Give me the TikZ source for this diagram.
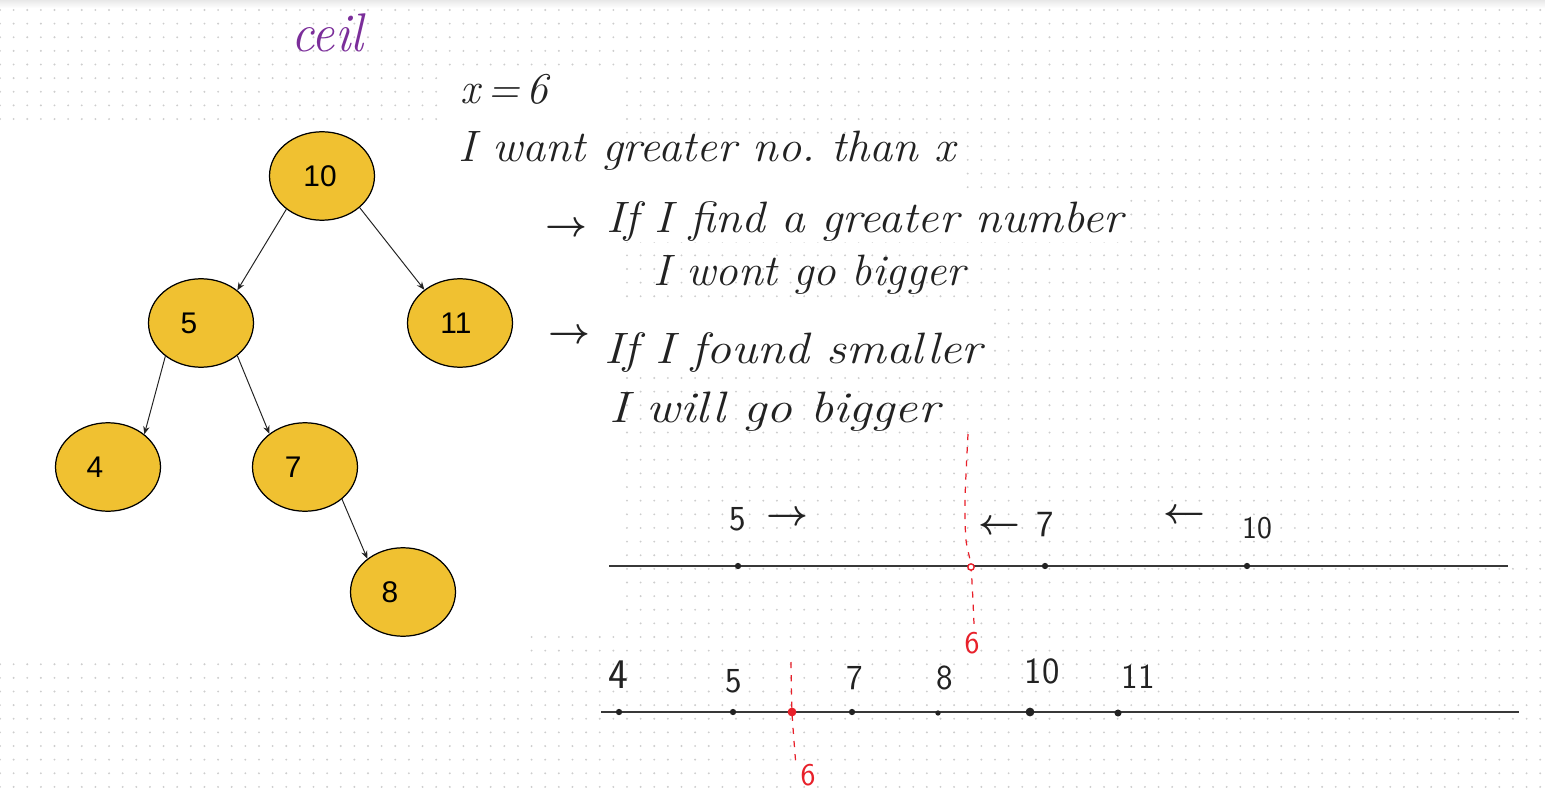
\documentclass[tikz,border=0pt]{standalone}
\usepackage{fontspec}
\usepackage{graphicx}
\newfontfamily\arialfont{Liberation Sans}
\usetikzlibrary{arrows.meta,shapes.geometric}
\definecolor{gold}{HTML}{F0C131}
\definecolor{ink}{HTML}{222222}
\definecolor{redink}{HTML}{E8202A}
\definecolor{purpink}{HTML}{7B2E9A}
\definecolor{gridcol}{HTML}{CDCDCD}
\newlength\pxu
\setlength\pxu{0.02cm}
\begin{document}
\begin{tikzpicture}[x=0.02cm,y=-0.02cm,
  treenode/.style={ellipse,draw=black,line width=0.7pt,fill=gold,minimum width=2.1cm,minimum height=1.77cm,inner sep=0pt},
  treenum/.style={font=\arialfont\fontsize{17}{20}\selectfont,text=black,inner sep=0pt},
  treearrow/.style={draw=ink,line width=0.55pt,-{Stealth[length=4.5pt,width=3.6pt]}},
  hand/.style={text=ink,font=\fontsize{25}{30}\selectfont\itshape,inner sep=0pt,anchor=base west},
  handarrow/.style={text=ink,font=\fontsize{21}{24}\selectfont\boldmath,inner sep=0pt},
  digit/.style={text=ink,font=\sffamily\fontsize{20}{22}\selectfont,inner sep=0pt},
  reddigit/.style={text=redink,font=\sffamily\fontsize{18}{20}\selectfont,inner sep=0pt},
  numline/.style={draw=ink!90,line width=1.1pt},
  reddash/.style={draw=redink,line width=0.7pt,dash pattern=on 3.5pt off 4pt},
  blackdot/.style={circle,fill=ink,inner sep=0pt,minimum size=#1},
  reddot/.style={circle,fill=redink,inner sep=0pt,minimum size=#1}
]
\useasboundingbox (0,0) rectangle (1545,797);
\fill[white] (0,0) rectangle (1545,797);
% dotted grid
\foreach \i in {0,...,113}{
  \fill[gridcol] foreach \j in {0,...,57}{(\i*13.63,10+\j*13.63) circle (0.6pt)};
}
\shade[top color=black!9,bottom color=white] (0,0) rectangle (1545,8);
% white backgrounds of pasted pieces
\fill[white] (0,122) rectangle (528,660);
\fill[white] (440,68) rectangle (622,200);
\fill[white] (440,138) rectangle (962,190);
\fill[white] (530,195) rectangle (1125,242);
\fill[white] (528,195) rectangle (625,632);
\fill[white] (530,300) rectangle (987,372);

% tree
\node[treenode,label={[treenum,xshift=-1.1pt]center:10}] (n10) at (322,176) {};
\node[treenode,label={[treenum,xshift=-6.8pt]center:5}] (n5) at (201,323) {};
\node[treenode,label={[treenum,xshift=-2.3pt]center:11}] (n11) at (460,323) {};
\node[treenode,label={[treenum,xshift=-7.4pt]center:4}] (n4) at (108,467) {};
\node[treenode,label={[treenum,xshift=-6.8pt]center:7}] (n7) at (305,467) {};
\node[treenode,label={[treenum,xshift=-7.4pt]center:8}] (n8) at (403,592) {};
\draw[treearrow] (n10.223) -- (n5.42);
\draw[treearrow] (n10.320) -- (n11.137);
\draw[treearrow] (n5.223) -- (n4.42);
\draw[treearrow] (n5.318) -- (n7.137);
\draw[treearrow] (n7.319) -- (n8.137);

% handwritten notes
\node[hand,text=purpink,font=\fontsize{31}{34}\selectfont\itshape] (ceil) at (291,52) {\resizebox{72\pxu}{\height}{ceil}};
\node[hand] (xeq) at (460,104) {\resizebox{88\pxu}{\height}{x\,=\,6}};
\node[hand] (want) at (458,162) {\resizebox{497\pxu}{\height}{I want greater no.\ than x}};
\node[handarrow] (ar1) at (566,229) {$\rightarrow$};
\node[hand] (find) at (606,233) {\resizebox{517\pxu}{\height}{If I find a greater number}};
\node[hand] (wont) at (653,286) {\resizebox{312\pxu}{\height}{I wont go bigger}};
\node[handarrow] (ar2) at (569,336) {$\rightarrow$};
\node[hand] (found) at (604,363) {\resizebox{378\pxu}{\height}{If I found smaller}};
\node[hand] (will) at (609,422) {\resizebox{330\pxu}{\height}{I will go bigger}};

% number line 1
\coordinate (l1s) at (609,566);
\coordinate (l1e) at (1508,566);
\draw[numline] (l1s) -- (l1e);
\draw[reddash] plot[smooth] coordinates {(968,434) (965,500) (966,540) (971,567) (974,624)};
\node[blackdot=3.6pt] (d1a) at (738,566) {};
\node[blackdot=3.6pt] (d1b) at (1045,566) {};
\node[blackdot=3.6pt] (d1c) at (1247,566) {};
\node[circle,draw=redink,fill=white,line width=0.8pt,inner sep=0pt,minimum size=3.6pt] (d1r) at (971,567) {};
\node[digit,font=\sffamily\fontsize{20}{22}\selectfont] (t1a) at (738,519) {5};
\node[handarrow] (a1a) at (787,518) {$\rightarrow$};
\node[handarrow] (a1b) at (999,527) {$\leftarrow$};
\node[digit,font=\sffamily\fontsize{21}{23}\selectfont] (t1b) at (1045,525) {7};
\node[handarrow] (a1c) at (1184,516) {$\leftarrow$};
\node[digit,font=\sffamily\fontsize{18}{20}\selectfont] (t1c) at (1257,528) {10};
\node[reddigit] (r6a) at (972,643) {6};

% number line 2
\coordinate (l2s) at (601,712);
\coordinate (l2e) at (1519,712);
\draw[numline] (l2s) -- (l2e);
\draw[reddash] plot[smooth] coordinates {(791,662) (792,712) (796,766)};
\node[blackdot=3.6pt] (d2a) at (619,712) {};
\node[blackdot=3.6pt] (d2b) at (733,712) {};
\node[blackdot=3.6pt] (d2c) at (852,712) {};
\node[blackdot=3pt] (d2d) at (938,713) {};
\node[blackdot=5pt] (d2e) at (1030,712) {};
\node[blackdot=4pt] (d2f) at (1118,713) {};
\node[reddot=5pt] (d2r) at (792,712) {};
\node[digit,font=\sffamily\fontsize{24}{26}\selectfont] (t2a) at (618,675) {4};
\node[digit] (t2b) at (734,681) {5};
\node[digit] (t2c) at (855,678) {7};
\node[digit] (t2d) at (945,678) {8};
\node[digit,font=\sffamily\fontsize{21}{24}\selectfont] (t2e) at (1042,671) {10};
\node[digit] (t2f) at (1138,677) {11};
\node[reddigit] (r6b) at (808,775) {6};
\end{tikzpicture}
\end{document}
